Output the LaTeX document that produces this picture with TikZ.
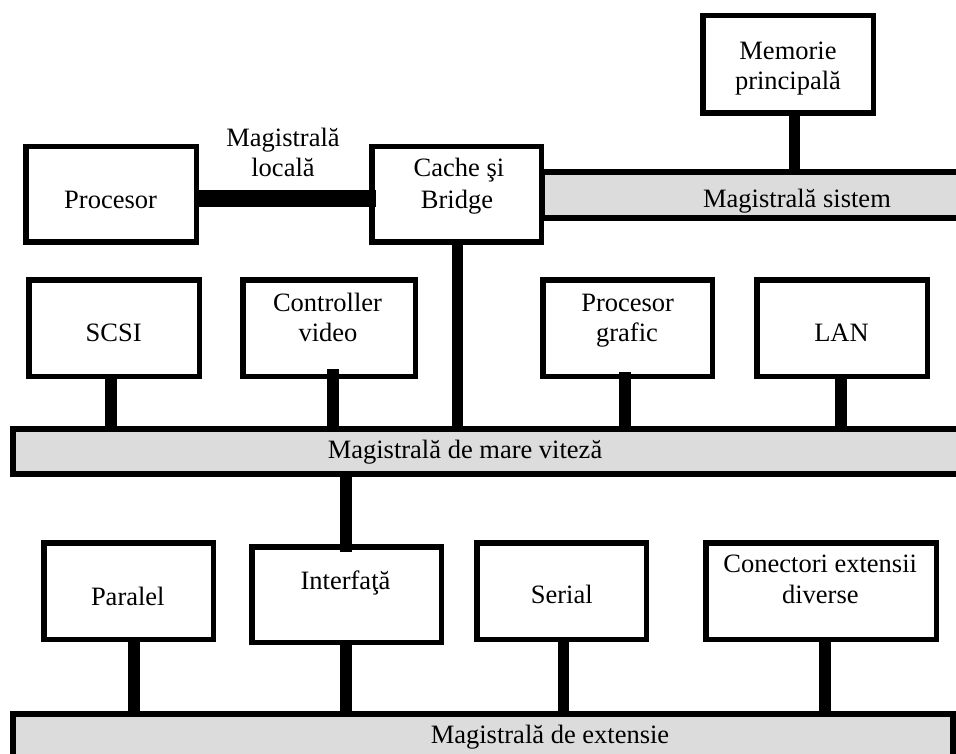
\documentclass[tikz,border=0pt]{standalone}
\usepackage{fontspec}
\setmainfont{Liberation Serif}
\definecolor{busgray}{RGB}{220,220,220}
\begin{document}
\begin{tikzpicture}[x=1pt,y=-1pt,
  unit/.style={draw, line width=5.5pt, fill=white, inner sep=0pt, outer sep=0pt},
  bus/.style={draw, line width=6pt, fill=busgray, inner sep=0pt, outer sep=0pt},
  wire/.style={line width=11.5pt},
  localbus/.style={line width=17.3pt},
  lbl/.style={anchor=base, inner sep=0pt, font=\fontsize{26.5}{31}\selectfont}]
\useasboundingbox (0,0) rectangle (956,754);
\clip (0,0) rectangle (956,754);

% buses
\node[bus, minimum width=448pt, minimum height=46pt] (sys) at (765.8,195) {};
\node[bus, minimum width=977pt, minimum height=45.6pt] (hs) at (501.5,451.5) {};
\node[bus, minimum width=940pt, minimum height=76.3pt] (ext) at (483,751.85) {};

% units
\node[unit, minimum width=170.5pt, minimum height=95.5pt] (proc) at (111,194.5) {};
\node[unit, minimum width=169.5pt, minimum height=95.5pt] (cache) at (456.5,194.5) {};
\node[unit, minimum width=170.5pt, minimum height=97.5pt] (mem) at (788,64.5) {};
\node[unit, minimum width=170.5pt, minimum height=96.5pt] (scsi) at (114,328) {};
\node[unit, minimum width=172.5pt, minimum height=96.5pt] (ctrl) at (329,328) {};
\node[unit, minimum width=169.5pt, minimum height=96.5pt] (graf) at (627.5,328) {};
\node[unit, minimum width=170.5pt, minimum height=96.5pt] (lan) at (842,328) {};
\node[unit, minimum width=169.5pt, minimum height=96.5pt] (par) at (128.5,591) {};
\node[unit, minimum width=189.5pt, minimum height=95.5pt] (intf) at (346.5,594.5) {};
\node[unit, minimum width=169.5pt, minimum height=96.5pt] (ser) at (561.5,591) {};
\node[unit, minimum width=230.5pt, minimum height=96.5pt] (con) at (821,591) {};

% connections
\draw[localbus] ([yshift=-4.2pt]proc.east) -- ([xshift=4.25pt,yshift=-4.2pt]cache.west);
\draw[wire] ([xshift=6.3pt]mem.south) -- ([xshift=6.3pt]mem.south |- sys.north);
\draw[wire] ([xshift=1pt]cache.south) -- ([xshift=1pt]cache.south |- hs.north);
\draw[wire] ([xshift=-3pt]scsi.south) -- ([xshift=-3pt]scsi.south |- hs.north);
\draw[wire] ([xshift=4pt,yshift=7.25pt]ctrl.south) -- ([xshift=4pt]ctrl.south |- hs.north);
\draw[wire] ([xshift=-2.5pt,yshift=4.5pt]graf.south) -- ([xshift=-2.5pt]graf.south |- hs.north);
\draw[wire] ([xshift=-1pt]lan.south) -- ([xshift=-1pt]lan.south |- hs.north);
\draw[wire] ([xshift=-0.5pt]intf.north |- hs.south) -- ([xshift=-0.5pt,yshift=-5pt]intf.north);
\draw[wire] ([xshift=5.5pt]par.south) -- ([xshift=5.5pt]par.south |- ext.north);
\draw[wire] ([xshift=-0.5pt]intf.south) -- ([xshift=-0.5pt]intf.south |- ext.north);
\draw[wire] ([xshift=2pt]ser.south) -- ([xshift=2pt]ser.south |- ext.north);
\draw[wire] ([xshift=4pt]con.south) -- ([xshift=4pt]con.south |- ext.north);

% labels
\node[lbl] (tproc) at (110.6,208.3) {Procesor};
\node[lbl] (tloc1) at (283,146.7) {Magistrală};
\node[lbl] (tloc2) at (283,176.7) {locală};
\node[lbl] (tcache1) at (459,176.7) {Cache şi};
\node[lbl] (tcache2) at (457,208.3) {Bridge};
\node[lbl] (tmem1) at (788,60) {Memorie};
\node[lbl] (tmem2) at (788,90) {principală};
\node[lbl] (tsys) at (797,207.3) {Magistrală sistem};
\node[lbl] (tscsi) at (113.7,341) {SCSI};
\node[lbl] (tctrl1) at (327.5,311.7) {Controller};
\node[lbl] (tctrl2) at (328,341) {video};
\node[lbl] (tgraf1) at (627.7,311.7) {Procesor};
\node[lbl] (tgraf2) at (627,341) {grafic};
\node[lbl] (tlan) at (841.5,341) {LAN};
\node[lbl] (ths) at (465,458) {Magistrală de mare viteză};
\node[lbl] (tpar) at (127.8,605) {Paralel};
\node[lbl] (tintf) at (345.5,589) {Interfaţă};
\node[lbl] (tser) at (561.8,603.3) {Serial};
\node[lbl] (tcon1) at (820.2,572.3) {Conectori extensii};
\node[lbl] (tcon2) at (820.3,603.3) {diverse};
\node[lbl] (text) at (550,743.3) {Magistrală de extensie};
\end{tikzpicture}
\end{document}
